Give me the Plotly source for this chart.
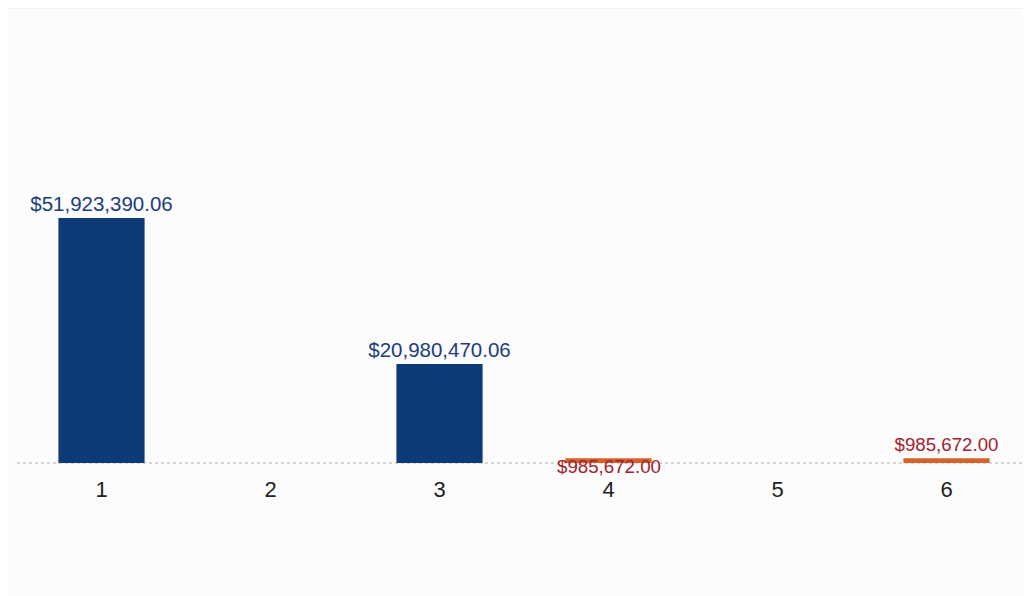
import plotly.graph_objects as go

categories = ["1", "2", "3", "4", "5", "6"]
values = [51923390.06, 0, 20980470.06, 985672.00, 0, 985672.00]
bar_colors = ["#0f3a78", "#0f3a78", "#0f3a78", "#d4622a", "#d4622a", "#d4622a"]
text_colors = ["#1a3f7c", "#1a3f7c", "#1a3f7c", "#a3222e", "#a3222e", "#a3222e"]
text_sizes = [20.5, 20.5, 20.5, 18.7, 18.7, 18.7]
label_below = [False, False, False, True, False, False]

labels = [f"${v:,.2f}" if (v != 0 and not b) else "" for v, b in zip(values, label_below)]

fig = go.Figure(go.Bar(
    x=categories, y=values,
    marker=dict(color=bar_colors, line=dict(width=0)),
    text=labels, textposition="outside", constraintext="none",
    textfont=dict(family="Liberation Sans, Arial", size=text_sizes, color=text_colors),
    cliponaxis=False,
    hoverinfo="skip",
))

annotations = []
for i, (v, b, col, s) in enumerate(zip(values, label_below, text_colors, text_sizes)):
    if b:
        annotations.append(dict(x=i, y=0, xref="x", yref="y", text=f"${v:,.2f}",
                                showarrow=False, yanchor="top", yshift=8, borderpad=0,
                                font=dict(family="Liberation Sans, Arial", size=s, color=col)))

fig.update_layout(
    width=1023, height=588,
    margin=dict(l=9, r=0, t=0, b=124),
    paper_bgcolor="#fcfcfc", plot_bgcolor="#fcfcfc",
    bargap=0.49,
    showlegend=False,
    annotations=annotations,
    xaxis=dict(type="category", showgrid=False, zeroline=False, showline=False,
               ticks="", ticklabelstandoff=2,
               tickfont=dict(family="Liberation Sans, Arial", size=22, color="#222222")),
    yaxis=dict(visible=False, range=[-1.91e6, 96.4e6], showgrid=False, zeroline=False),
    shapes=[
        dict(type="line", xref="paper", yref="y", x0=0, x1=1, y0=0, y1=0,
             line=dict(color="#c8c8c8", width=1.5, dash="dot"), layer="below"),
        dict(type="rect", xref="paper", yref="paper", x0=-0.011, x1=1.0, y0=-0.3, y1=1.0,
             line=dict(color="#e6e6e6", width=1), layer="below"),
    ],
)

fig.write_html("out.html")
